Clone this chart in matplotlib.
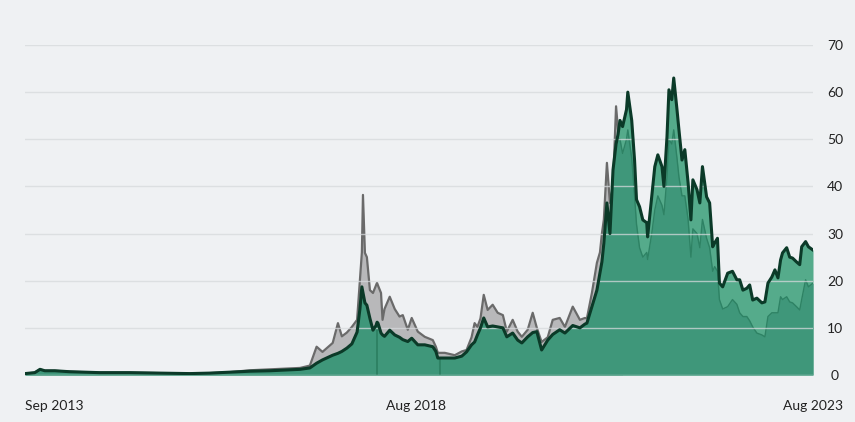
import matplotlib.pyplot as plt
import numpy as np
import pandas as pd

plt.rcParams['font.family'] = ['Lato', 'DejaVu Sans']

# sampled by eye from the reference chart
dates = [
    "2013-09-01", "2013-10-16", "2013-11-09", "2013-12-01", "2014-01-16", "2014-03-24", "2014-06-02", "2014-08-10",
    "2014-12-26", "2015-05-12", "2015-09-28", "2015-12-29", "2016-03-29", "2016-06-30", "2016-09-30", "2017-01-01",
    "2017-02-16", "2017-04-02", "2017-05-03", "2017-05-30", "2017-07-16", "2017-08-09", "2017-08-27", "2017-09-19",
    "2017-10-12", "2017-11-05", "2017-11-18", "2017-11-27", "2017-12-02", "2017-12-11", "2017-12-20", "2018-01-03",
    "2018-01-17", "2018-01-31", "2018-02-03", "2018-02-04", "2018-02-05", "2018-02-09", "2018-02-23", "2018-03-02",
    "2018-03-11", "2018-04-04", "2018-04-27", "2018-05-19", "2018-06-03", "2018-06-26", "2018-07-14", "2018-08-11",
    "2018-09-12", "2018-10-19", "2018-11-02", "2018-11-11", "2018-11-19", "2018-11-20", "2018-11-21", "2018-12-13",
    "2019-01-28", "2019-03-01", "2019-03-23", "2019-04-15", "2019-04-29", "2019-05-12", "2019-05-26", "2019-06-10",
    "2019-06-28", "2019-07-21", "2019-08-13", "2019-09-06", "2019-09-24", "2019-10-21", "2019-11-13", "2019-12-02",
    "2019-12-29", "2020-01-21", "2020-02-09", "2020-03-02", "2020-03-30", "2020-04-22", "2020-05-24", "2020-06-17",
    "2020-07-23", "2020-08-25", "2020-09-17", "2020-09-26", "2020-10-19", "2020-11-11", "2020-11-25", "2020-12-04",
    "2020-12-13", "2020-12-27", "2021-01-10", "2021-01-24", "2021-02-07", "2021-02-16", "2021-02-25", "2021-03-09",
    "2021-03-27", "2021-04-02", "2021-04-20", "2021-05-03", "2021-05-12", "2021-05-26", "2021-06-10", "2021-06-28",
    "2021-07-02", "2021-07-21", "2021-08-04", "2021-08-18", "2021-09-06", "2021-09-15", "2021-09-29", "2021-10-08",
    "2021-10-21", "2021-10-30", "2021-11-14", "2021-11-23", "2021-12-07", "2021-12-20", "2022-01-04", "2022-01-17",
    "2022-01-26", "2022-02-14", "2022-02-27", "2022-03-11", "2022-03-30", "2022-04-13", "2022-04-27", "2022-05-06",
    "2022-05-19", "2022-05-28", "2022-06-12", "2022-07-05", "2022-07-27", "2022-08-16", "2022-08-29", "2022-09-13",
    "2022-10-01", "2022-10-14", "2022-10-28", "2022-11-16", "2022-12-09", "2022-12-23", "2023-01-06", "2023-01-24",
    "2023-02-07", "2023-02-21", "2023-03-05", "2023-03-14", "2023-04-02", "2023-04-16", "2023-04-29", "2023-05-17",
    "2023-06-01", "2023-06-10", "2023-06-28", "2023-07-11", "2023-08-01",
]

main = [
    0.3, 0.5, 1.2, 0.9, 0.9, 0.7, 0.6, 0.5,
    0.5, 0.4, 0.3, 0.4, 0.6, 0.8, 0.9, 1.1,
    1.2, 1.5, 2.5, 3.2, 4.2, 4.6, 5.0, 5.7,
    6.6, 9.1, 14.0, 18.7, 17.5, 15.3, 14.8, 12.0,
    9.5, 10.5, 11.0, 11.1, 11.2, 11.0, 8.9, 8.5,
    8.2, 9.5, 8.5, 8.0, 7.5, 7.1, 7.8, 6.4,
    6.4, 6.0, 5.0, 3.6, 3.6, 3.6, 3.6, 3.6,
    3.6, 4.0, 4.9, 6.4, 7.0, 8.5, 10.0, 12.1,
    10.2, 10.4, 10.2, 10.0, 8.1, 8.9, 7.4, 6.8,
    8.1, 9.0, 9.2, 5.3, 7.4, 8.6, 9.6, 8.9,
    10.5, 10.0, 10.8, 11.0, 14.5, 18.0, 21.6, 24.0,
    28.0, 36.5, 30.0, 43.5, 49.0, 51.0, 54.0, 52.7,
    56.3, 60.0, 54.0, 45.6, 37.2, 35.7, 32.9, 32.3,
    29.3, 37.8, 44.2, 46.7, 44.2, 40.0, 50.5, 60.5,
    58.4, 63.0, 56.3, 52.0, 45.6, 47.8, 40.8, 32.9,
    41.4, 39.3, 36.5, 44.2, 37.8, 36.5, 27.2, 28.0,
    29.0, 19.5, 18.7, 21.6, 22.0, 20.2, 20.2, 18.0,
    18.4, 19.1, 15.9, 16.3, 15.3, 15.5, 19.5, 20.8,
    22.3, 20.6, 24.4, 25.9, 27.0, 25.0, 24.8, 24.0,
    23.4, 27.2, 28.3, 27.2, 26.5,
]

grey = [
    0.3, 0.5, 1.2, 0.9, 0.9, 0.7, 0.6, 0.5,
    0.5, 0.4, 0.3, 0.4, 0.6, 1.0, 1.2, 1.4,
    1.5, 2.0, 6.0, 4.9, 6.8, 11.0, 8.2, 9.0,
    10.2, 11.7, 20.0, 26.0, 38.2, 25.9, 25.0, 18.0,
    17.4, 19.0, 19.3, 19.5, 19.5, 19.0, 17.4, 11.7,
    14.0, 16.6, 14.0, 12.4, 12.7, 9.6, 12.1, 9.2,
    8.1, 7.4, 6.0, 4.7, 4.7, 4.7, 4.7, 4.7,
    4.2, 5.0, 5.3, 8.0, 11.0, 10.2, 12.0, 17.0,
    13.8, 14.9, 13.2, 12.7, 9.2, 11.7, 9.2, 8.1,
    9.6, 13.2, 10.0, 7.0, 8.0, 11.7, 12.1, 10.2,
    14.5, 11.7, 12.1, 12.0, 17.4, 23.8, 26.0, 30.0,
    33.0, 45.0, 36.5, 40.0, 57.0, 52.0, 51.0, 48.0,
] + [None] * 61

# None = same as main (the two series only split from 2021)
lower = [None] * 32 + [
    None, None, None, 0.0, None, None, None, None,
] + [None] * 8 + [
    None, None, None, None, None, 0.0, None, None,
] + [None] * 32 + [
    None, None, None, None, None, 50.0, 50.0, 47.0,
    50.0, 52.0, 46.0, 38.0, 32.0, 27.0, 25.0, 26.0,
    24.5, 30.0, 35.0, 38.0, 36.0, 34.0, 42.0, 50.0,
    49.0, 52.0, 46.0, 42.0, 38.0, 38.0, 33.0, 25.0,
    31.0, 30.0, 27.0, 33.0, 29.0, 27.0, 22.0, 23.0,
    22.0, 16.0, 14.0, 14.5, 16.0, 15.0, 13.2, 12.4,
    12.4, 11.5, 10.2, 8.9, 8.5, 8.1, 12.4, 13.2,
    13.2, 13.2, 16.6, 16.0, 16.6, 15.5, 15.3, 14.5,
    13.8, 16.0, 20.2, 18.7, 19.5,
]

tick_dates = ["2013-09-01", "2018-08-01", "2023-08-01"]
tick_labels = ["Sep 2013", "Aug 2018", "Aug 2023"]

x = pd.to_datetime(dates)
main = np.array(main, dtype=float)
grey = np.array([np.nan if v is None else v for v in grey])
lower = np.array([m if v is None else v for m, v in zip(main, lower)])

bg = '#eff1f3'
fig = plt.figure(figsize=(8.55, 4.22), dpi=100, facecolor=bg)
ax = fig.add_axes([25 / 855, 1 - 375 / 422, 788 / 855, 330 / 422])
ax.set_facecolor(bg)

ax.fill_between(x, 0, grey, color='#b8b8ba', lw=0, zorder=1)
ax.plot(x, grey, color='#6a6a6a', lw=1.6, zorder=1.2)
ax.fill_between(x, 0, main, color='#55ab8b', lw=0, zorder=1.4)
ax.fill_between(x, 0, lower, color='#3f977a', lw=0, zorder=1.5)
ax.plot(x, lower, color='#2e8264', lw=1.0, zorder=1.6)
ax.plot(x, main, color='#0b3a28', lw=2.2, zorder=3)

ax.set_ylim(0, 70)
ax.set_xlim(x[0], x[-1])
ax.set_yticks(range(0, 80, 10))
ax.yaxis.tick_right()
ax.tick_params(axis='y', length=0, pad=15.8, labelsize=10, labelcolor='#222222')
for t in ax.get_yticklabels():
    t.set_horizontalalignment('center')

ax.set_axisbelow(False)
ax.yaxis.grid(True, color='#d6d9dc', lw=1, alpha=0.75, zorder=2.5)
ax.xaxis.grid(False)

ax.set_xticks(pd.to_datetime(tick_dates))
ax.set_xticklabels(tick_labels)
ax.tick_params(axis='x', length=0, pad=18, labelsize=10, labelcolor='#222222')
ax.get_xticklabels()[0].set_horizontalalignment('left')

for s in ax.spines.values():
    s.set_visible(False)

fig.savefig('out.png', dpi=100, facecolor=bg)
